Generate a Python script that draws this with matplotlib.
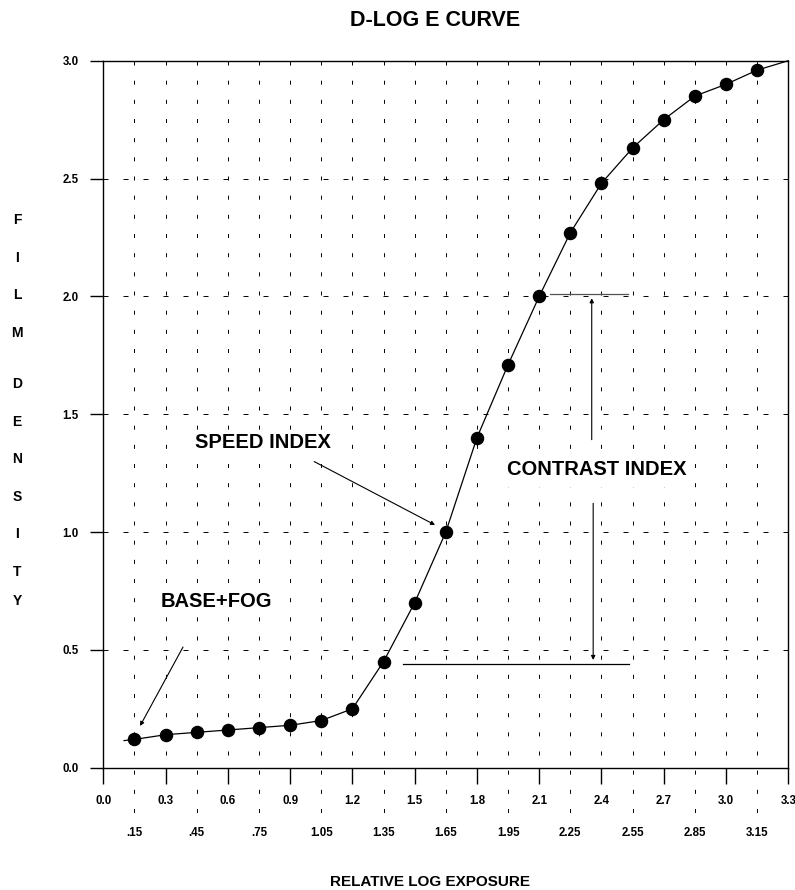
import numpy as np
import matplotlib
matplotlib.use("Agg")
import matplotlib.pyplot as plt

plt.rcParams['font.family'] = ['Liberation Sans', 'DejaVu Sans']
plt.rcParams['lines.scale_dashes'] = False

# ---------------------------------------------------------------------------
# DATA
# ---------------------------------------------------------------------------
log_exposure = [0.15, 0.30, 0.45, 0.60, 0.75, 0.90, 1.05, 1.20, 1.35, 1.50, 1.65,
                1.80, 1.95, 2.10, 2.25, 2.40, 2.55, 2.70, 2.85, 3.00, 3.15]
density = [0.12, 0.14, 0.15, 0.16, 0.17, 0.18, 0.20, 0.25, 0.45, 0.70, 1.00,
           1.40, 1.71, 2.00, 2.27, 2.48, 2.63, 2.75, 2.85, 2.90, 2.96]

# curve runs a bit past the first and last points
curve_start = (0.10, 0.115)
curve_end = (3.30, 3.00)

major_ticks = [0.0, 0.3, 0.6, 0.9, 1.2, 1.5, 1.8, 2.1, 2.4, 2.7, 3.0, 3.3]
major_labels = ['0.0', '0.3', '0.6', '0.9', '1.2', '1.5', '1.8', '2.1', '2.4', '2.7', '3.0', '3.3']
minor_ticks = [0.15, 0.45, 0.75, 1.05, 1.35, 1.65, 1.95, 2.25, 2.55, 2.85, 3.15]
minor_labels = ['.15', '.45', '.75', '1.05', '1.35', '1.65', '1.95', '2.25', '2.55', '2.85', '3.15']
y_ticks = [0.0, 0.5, 1.0, 1.5, 2.0, 2.5, 3.0]
y_labels = ['0.0', '0.5', '1.0', '1.5', '2.0', '2.5', '3.0']

ylabel_letters = ['F', 'I', 'L', 'M', 'D', 'E', 'N', 'S', 'I', 'T', 'Y']

# ---------------------------------------------------------------------------
# FIGURE
# ---------------------------------------------------------------------------
W, H = 795, 890
fig = plt.figure(figsize=(W / 100, H / 100), dpi=100)
ax = fig.add_axes([103.3 / W, 1 - 767.7 / H, 685 / W, 707 / H])
ax.set_xlim(0, 3.3)
ax.set_ylim(0, 3.0)

for s in ax.spines.values():
    s.set_linewidth(1.0)
    s.set_color('black')

# vertical dotted grid (odd ones run down between the tick label rows)
grid_x = sorted(major_ticks[1:-1] + minor_ticks)
for gx in grid_x:
    y_low = -0.205 if gx in minor_ticks else 0.0
    ax.plot([gx, gx], [3.0, y_low], color='black', lw=0.7,
            dashes=(2.9, 10.9), clip_on=False, zorder=1)

# horizontal dashed grid
for gy in y_ticks[1:-1]:
    ax.plot([0, 3.3], [gy, gy], color='black', lw=0.7,
            dashes=(3.6, 10.8), zorder=1)

# curve + points
line_x = [curve_start[0]] + log_exposure + [curve_end[0]]
line_y = [curve_start[1]] + density + [curve_end[1]]
ax.plot(line_x, line_y, color='black', lw=0.9, zorder=3, clip_on=False)
ax.plot(log_exposure, density, 'o', color='black', ms=8.7, zorder=4)

# ticks
ax.set_xticks(major_ticks)
ax.set_xticklabels(major_labels, fontsize=8.3, fontweight='bold')
ax.set_xticks(minor_ticks, minor=True)
ax.set_xticklabels(minor_labels, minor=True, fontsize=8.3, fontweight='bold')
ax.tick_params(axis='x', which='major', direction='out', length=11.5, width=1, pad=8)
ax.tick_params(axis='x', which='minor', length=0, pad=43)
ax.set_yticks(y_ticks)
ax.set_yticklabels(y_labels, fontsize=8.3, fontweight='bold')
ax.tick_params(axis='y', direction='out', length=9.4, width=1, pad=8.5)

# annotations
bbox = dict(facecolor='white', edgecolor='none', pad=2)
arrow = dict(arrowstyle='-|>', lw=0.8, color='black', mutation_scale=6,
             shrinkA=0, shrinkB=0)

ax.text(0.546, 0.705, 'BASE+FOG', fontsize=14.5, fontweight='bold',
        ha='center', va='center', bbox=bbox, zorder=5)
ax.annotate('', xy=(0.177, 0.177), xytext=(0.384, 0.512), arrowprops=arrow, zorder=5)

ax.text(0.771, 1.379, 'SPEED INDEX', fontsize=14.5, fontweight='bold',
        ha='center', va='center', bbox=bbox, zorder=5)
ax.annotate('', xy=(1.598, 1.03), xytext=(1.016, 1.299), arrowprops=arrow, zorder=5)

ax.text(2.377, 1.265, 'CONTRAST INDEX', fontsize=14.5, fontweight='bold',
        ha='center', va='center', bbox=dict(facecolor='white', edgecolor='none', pad=6), zorder=5)
ax.annotate('', xy=(2.353, 1.992), xytext=(2.353, 1.392), arrowprops=arrow, zorder=5)
ax.annotate('', xy=(2.36, 0.457), xytext=(2.36, 1.122), arrowprops=arrow, zorder=5)
ax.plot([2.152, 2.526], [2.011, 2.011], color='#555555', lw=0.9, zorder=5)
ax.plot([1.445, 2.534], [0.44, 0.44], color='black', lw=0.9, zorder=5)

# titles
fig.text(435 / W, 1 - 20 / H, 'D-LOG E CURVE', fontsize=15.5, fontweight='bold',
         ha='center', va='center')
fig.text(430 / W, 1 - 882 / H, 'RELATIVE LOG EXPOSURE', fontsize=11, fontweight='bold',
         ha='center', va='center')

letter_y = [220, 257.6, 295.2, 332.8, 384, 421.6, 459.2, 496.8, 534.4, 572, 601]
for letter, py in zip(ylabel_letters, letter_y):
    fig.text(17 / W, 1 - py / H, letter, fontsize=10, fontweight='bold',
             ha='center', va='center')

fig.savefig('out.png', dpi=100)
